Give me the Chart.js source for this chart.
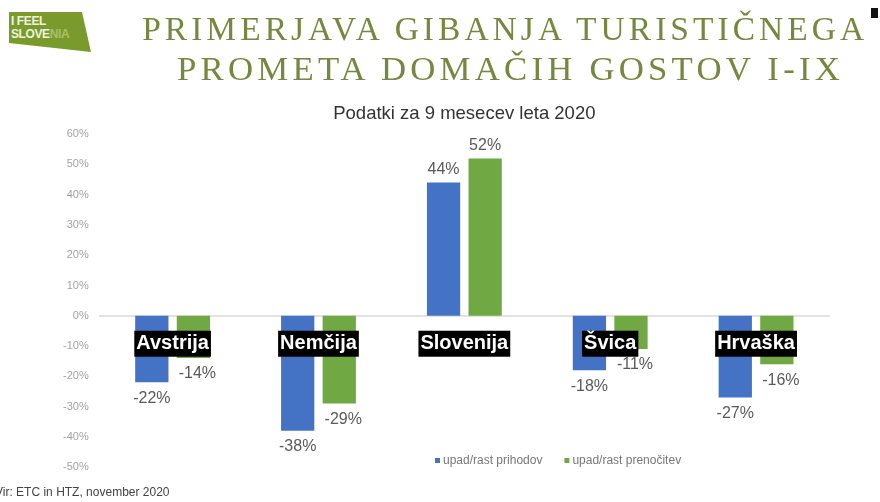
<!DOCTYPE html>
<html>
<head>
<meta charset="utf-8">
<script src="https://cdn.jsdelivr.net/npm/chart.js@4.4.1/dist/chart.umd.min.js"></script>
<style>
  html, body { margin: 0; padding: 0; background: #fff; }
  #wrap { position: relative; width: 880px; height: 502px; overflow: hidden; }
  #c { position: absolute; left: 0; top: 0; }
  .logo { position: absolute; left: 9px; top: 12px; width: 82px; height: 40px; background: #7b9a2c;
    clip-path: polygon(0 0, 73px 0, 82px 40px, 0 31px); }
  .logo span { position: absolute; left: 2px; font: bold 12px "Liberation Sans", Arial, sans-serif; color: #eef3dc; line-height: 12px; letter-spacing: -0.4px; }
  .logo .l1 { top: 3px; }
  .logo .l2 { top: 16px; }
  .logo .l2 b { color: #a9c164; font-weight: bold; }
  .ttl { position: absolute; width: 1010px; text-align: center; white-space: nowrap;
    font: 33px "Liberation Serif", "DejaVu Serif", serif; line-height: 33px; color: #76873f; letter-spacing: 4px; }
  .ttl span { display: inline-block; transform-origin: center; }
  .mark { position: absolute; left: 871px; top: 8px; width: 7px; height: 10px; background: #111; }
  .src { position: absolute; left: -5px; top: 485px; font: 12px "Liberation Sans", Arial, sans-serif; color: #444; }
</style>
</head>
<body>
<div id="wrap">
  <canvas id="c" width="880" height="502"></canvas>
  <div class="logo"><span class="l1">I FEEL</span><span class="l2">SLOVE<b>NIA</b></span></div>
  <div class="ttl" id="t1" style="left:0;top:13px"><span data-w="726">PRIMERJAVA GIBANJA TURISTIČNEGA</span></div>
  <div class="ttl" id="t2" style="left:6px;top:53px"><span data-w="667">PROMETA DOMAČIH GOSTOV I-IX</span></div>
  <div class="mark"></div>
  <div class="src">Vir: ETC in HTZ, november 2020</div>
</div>
<script>
// podatki
const categories = ["Avstrija", "Nemčija", "Slovenija", "Švica", "Hrvaška"];
const prihodi = [-22, -38, 44, -18, -27];
const prenocitve = [-14, -29, 52, -11, -16];
const seriesNames = ["upad/rast prihodov", "upad/rast prenočitev"];
const yMin = -50, yMax = 60, yStep = 10;

// fit title lines to their width
document.querySelectorAll(".ttl span").forEach(s => {
  const w = s.getBoundingClientRect().width;
  s.style.transform = "scaleX(" + (parseFloat(s.dataset.w) / w) + ")";
});

// value labels above / below bars
const valueLabels = {
  id: "valueLabels",
  afterDatasetsDraw(chart) {
    const ctx = chart.ctx;
    ctx.save();
    ctx.font = "16px 'Liberation Sans', Arial, sans-serif";
    ctx.fillStyle = "#5a5a5a";
    ctx.textAlign = "center";
    chart.data.datasets.forEach((ds, i) => {
      chart.getDatasetMeta(i).data.forEach((bar, j) => {
        const v = ds.data[j];
        if (v >= 0) {
          ctx.textBaseline = "bottom";
          ctx.fillText(v + "%", bar.x, bar.y - 5);
        } else {
          ctx.textBaseline = "top";
          ctx.fillText(v + "%", bar.x + (i == 1 ? 4 : 0), bar.y + 8);
        }
      });
    });
    ctx.restore();
  }
};

// small legend inside the plot, bottom right
const innerLegend = {
  id: "innerLegend",
  afterDraw(chart) {
    const ctx = chart.ctx;
    ctx.save();
    ctx.font = "12px 'Liberation Sans', Arial, sans-serif";
    ctx.textBaseline = "middle";
    let x = 435;
    const y = 461;
    chart.data.datasets.forEach(ds => {
      ctx.fillStyle = ds.backgroundColor;
      ctx.fillRect(x, y - 3, 5, 5);
      ctx.fillStyle = "#777";
      ctx.fillText(ds.label, x + 8, y);
      x += 8 + ctx.measureText(ds.label).width + 22;
    });
    ctx.restore();
  }
};

new Chart(document.getElementById("c"), {
  type: "bar",
  data: {
    labels: categories,
    datasets: [
      { label: seriesNames[0], data: prihodi, backgroundColor: "#4472c4" },
      { label: seriesNames[1], data: prenocitve, backgroundColor: "#70a844" }
    ]
  },
  options: {
    responsive: false,
    animation: false,
    categoryPercentage: 0.57,
    barPercentage: 0.8,
    layout: { padding: { left: 52, right: 51, top: 103, bottom: 35 } },
    scales: {
      x: {
        position: { y: 0 },
        grid: { display: false, drawTicks: false },
        border: { color: "#e3e3e3", width: 2 },
        ticks: {
          z: 1,
          color: "#fff",
          padding: 16,
          font: { family: "'Liberation Sans', Arial, sans-serif", size: 20, weight: "bold" },
          showLabelBackdrop: true,
          backdropColor: "#000",
          backdropPadding: { top: 1, bottom: 1, left: 2, right: 2 }
        }
      },
      y: {
        min: yMin,
        max: yMax,
        grid: { display: false, drawTicks: false },
        border: { display: false },
        ticks: {
          stepSize: yStep,
          padding: 11,
          color: "#a3a3a3",
          font: { family: "'Liberation Sans', Arial, sans-serif", size: 11 },
          callback: v => v + "%"
        }
      }
    },
    plugins: {
      legend: { display: false },
      tooltip: { enabled: false },
      title: {
        display: true,
        fullSize: false,
        text: "Podatki za 9 mesecev leta 2020",
        color: "#333",
        font: { family: "'Liberation Sans', Arial, sans-serif", size: 18.5, weight: "normal" },
        padding: { top: 0, bottom: 9 }
      }
    }
  },
  plugins: [valueLabels, innerLegend]
});
</script>
</body>
</html>
